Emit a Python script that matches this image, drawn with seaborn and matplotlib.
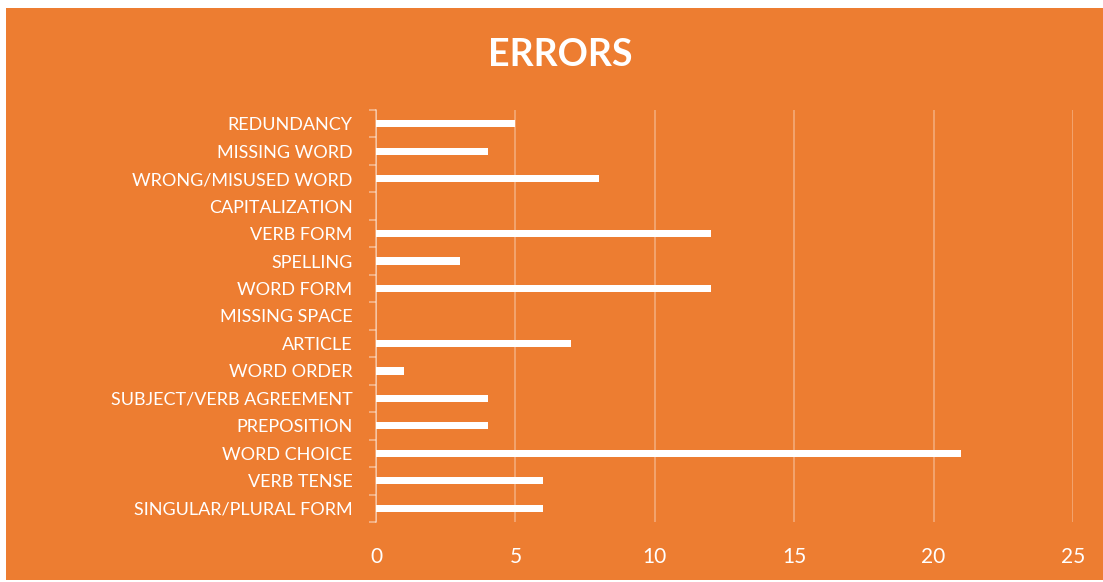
import matplotlib.pyplot as plt
import matplotlib.patches as patches
import seaborn as sns
import pandas as pd

# Veri
categories = ['REDUNDANCY', 'MISSING WORD', 'WRONG/MISUSED WORD', 'CAPITALIZATION',
              'VERB FORM', 'SPELLING', 'WORD FORM', 'MISSING SPACE', 'ARTICLE',
              'WORD ORDER', 'SUBJECT/VERB AGREEMENT', 'PREPOSITION', 'WORD CHOICE',
              'VERB TENSE', 'SINGULAR/PLURAL FORM']
errors = [5, 4, 8, 0, 12, 3, 12, 0, 7, 1, 4, 4, 21, 6, 6]

df = pd.DataFrame({'Category': categories, 'Errors': errors})

orange = '#ED7D31'
sns.set_theme(style='white')
plt.rcParams['font.family'] = ['Lato', 'DejaVu Sans']

fig = plt.figure(figsize=(11.03, 5.82), dpi=100)
fig.patch.set_facecolor('white')
# turuncu arka plan
fig.add_artist(patches.Rectangle((6 / 1103, 2 / 582), 1 - 6 / 1103, 1 - 10 / 582,
                                 transform=fig.transFigure, facecolor=orange,
                                 edgecolor='none', zorder=-5))

ax = fig.add_axes([376 / 1103, 1 - 522 / 582, 697 / 1103, 412 / 582])
ax.set_facecolor('none')

sns.barplot(data=df, x='Errors', y='Category', orient='h', color='white',
            width=0.26, saturation=1, linewidth=0, ax=ax, zorder=3)

ax.set_xlim(0, 25)
ax.set_ylim(len(categories) - 0.5, -0.5)
ax.set_xticks([0, 5, 10, 15, 20, 25])
ax.xaxis.grid(True, color='white', alpha=0.35, linewidth=1.2)
ax.set_axisbelow(True)

for s in ['top', 'right', 'bottom']:
    ax.spines[s].set_visible(False)
ax.spines['left'].set_color((1, 1, 1, 0.45))
ax.spines['left'].set_linewidth(1.2)

ax.set_yticks([i - 0.5 for i in range(len(categories) + 1)], minor=True)
ax.tick_params(axis='y', which='minor', length=5, width=1.2, color=(1, 1, 1, 0.45),
               left=True)
ax.tick_params(axis='y', which='major', length=0, pad=17, labelsize=13,
               labelcolor='white')
ax.tick_params(axis='x', length=0, pad=18, labelsize=15, labelcolor='white')

ax.set_xlabel('')
ax.set_ylabel('')

fig.text(0.508, 1 - 55 / 582, 'ERRORS', ha='center', va='center', color='white',
         fontsize=27, fontweight='bold')

fig.savefig('out.png', dpi=100)
